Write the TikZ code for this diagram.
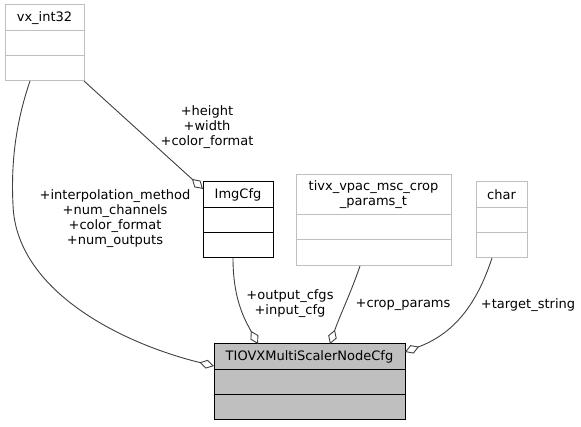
\documentclass[tikz,border=0pt]{standalone}
\usepackage{fontspec}
\setmainfont{DejaVu Sans}
\usepackage{xcolor}
\usetikzlibrary{arrows.meta,shapes,positioning}
\definecolor{edgegray}{HTML}{404040}
\definecolor{boxgray}{HTML}{BFBFBF}

\begin{document}
\begin{tikzpicture}[x=1pt, y=-1pt,
every node/.style = {align=center, text centered,
font=\fontsize{13}{15}\selectfont, inner sep=0pt, outer sep=0pt},
member/.style = {draw=boxgray, line width=1pt},
documented/.style = {draw=black, line width=1pt},
focus/.style = {draw=black, fill=boxgray, line width=1pt},
link/.style = {draw=edgegray, line width=0.9pt,
-{Diamond[open, length=15pt, width=9pt]}} ]
\useasboundingbox[fill=white] (0,0) rectangle (581,427);

% classes
\node[member, minimum width=79pt, minimum height=26pt] (vx) at (44.5,18) {vx\_int32};
\node[member, minimum width=79pt, minimum height=25pt, below=0pt of vx] (vx1) {};
\node[member, minimum width=79pt, minimum height=25pt, below=0pt of vx1] (vx2) {};

\node[documented, minimum width=70pt, minimum height=26pt] (img) at (238,195) {ImgCfg};
\node[documented, minimum width=70pt, minimum height=25pt, below=0pt of img] (img1) {};
\node[documented, minimum width=70pt, minimum height=25pt, below=0pt of img1] (img2) {};

\node[member, minimum width=155pt, minimum height=40pt] (crop) at (373.5,195) {tivx\_vpac\_msc\_crop\\\_params\_t};
\node[member, minimum width=155pt, minimum height=25pt, below=0pt of crop] (crop1) {};
\node[member, minimum width=155pt, minimum height=26pt, below=0pt of crop1] (crop2) {};

\node[member, minimum width=51pt, minimum height=26pt] (chr) at (501.5,195) {char};
\node[member, minimum width=51pt, minimum height=25pt, below=0pt of chr] (chr1) {};
\node[member, minimum width=51pt, minimum height=25pt, below=0pt of chr1] (chr2) {};

\node[focus, minimum width=191pt, minimum height=26pt] (main) at (309.5,357) {TIOVXMultiScalerNodeCfg};
\node[focus, minimum width=191pt, minimum height=25pt, below=0pt of main] (main1) {};
\node[focus, minimum width=191pt, minimum height=25pt, below=0pt of main1] (main2) {};

% members
\draw[link] ([xshift=-14.5pt]vx2.south) .. controls (15,125) and (11,165) .. (13,205)
  .. controls (16,290) and (120,343) .. ([yshift=-9pt]main.west);
\draw[link] (vx2.south east) -- ([yshift=-7pt]img.north west);
\draw[link] ([xshift=-5pt]img2.south) .. controls (233,300) and (245,320) .. ([xshift=-51.5pt]main.north);
\draw[link] ([xshift=-13.5pt]crop2.south) .. controls (350,295) and (340,315) .. ([xshift=20.5pt]main.north);
\draw[link] ([xshift=-9.5pt]chr2.south) .. controls (475,310) and (450,335) .. ([yshift=-8pt]main.north east);

% labels
\node (lblvx) at (115,219) {+interpolation\_method\\+num\_channels\\+color\_format\\+num\_outputs};
\node (lblimg) at (207,127) {+height\\+width\\+color\_format};
\node (lblcfg) at (290,304) {+output\_cfgs\\+input\_cfg};
\node (lblcrop) at (403,305) {+crop\_params};
\node (lbltarget) at (528,305) {+target\_string};
\end{tikzpicture}
\end{document}
